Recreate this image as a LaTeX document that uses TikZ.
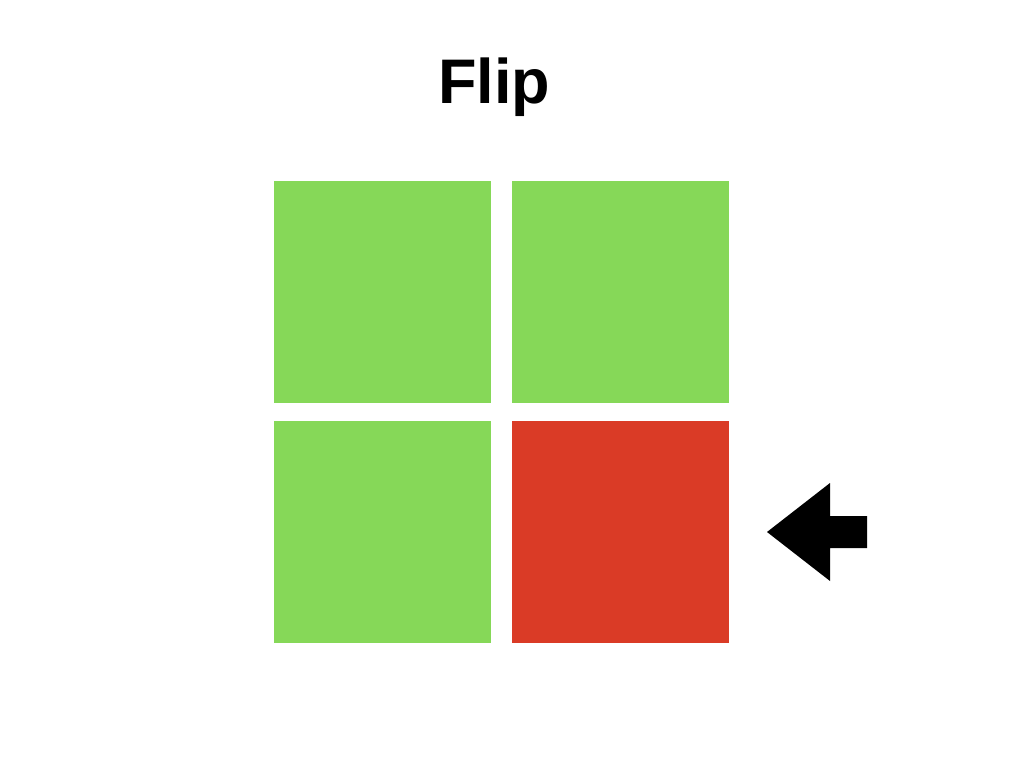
\documentclass[tikz,border=0pt]{standalone}
\usepackage{fontspec}
\setmainfont{Liberation Sans}
\definecolor{tilegreen}{HTML}{86D858}
\definecolor{tilered}{HTML}{DA3B26}
\begin{document}
\begin{tikzpicture}[x=1pt,y=-1pt,
  tile/.style={draw=none,inner sep=0pt,minimum width=217pt,minimum height=222pt,anchor=north west}]
\useasboundingbox (0,0) rectangle (1024,768);
\node[anchor=base,inner sep=0pt,font=\bfseries\fontsize{63}{70}\selectfont] (title) at (494,103) {Flip};
\node[tile,fill=tilegreen] (tl) at (274,181) {};
\node[tile,fill=tilegreen] (tr) at (512,181) {};
\node[tile,fill=tilegreen] (bl) at (274,421) {};
\node[tile,fill=tilered] (br) at (512,421) {};
\fill[black] (767,532) -- (830,483) -- (830,516) -- (867,516) -- (867,548) -- (830,548) -- (830,581) -- cycle;
\end{tikzpicture}
\end{document}
